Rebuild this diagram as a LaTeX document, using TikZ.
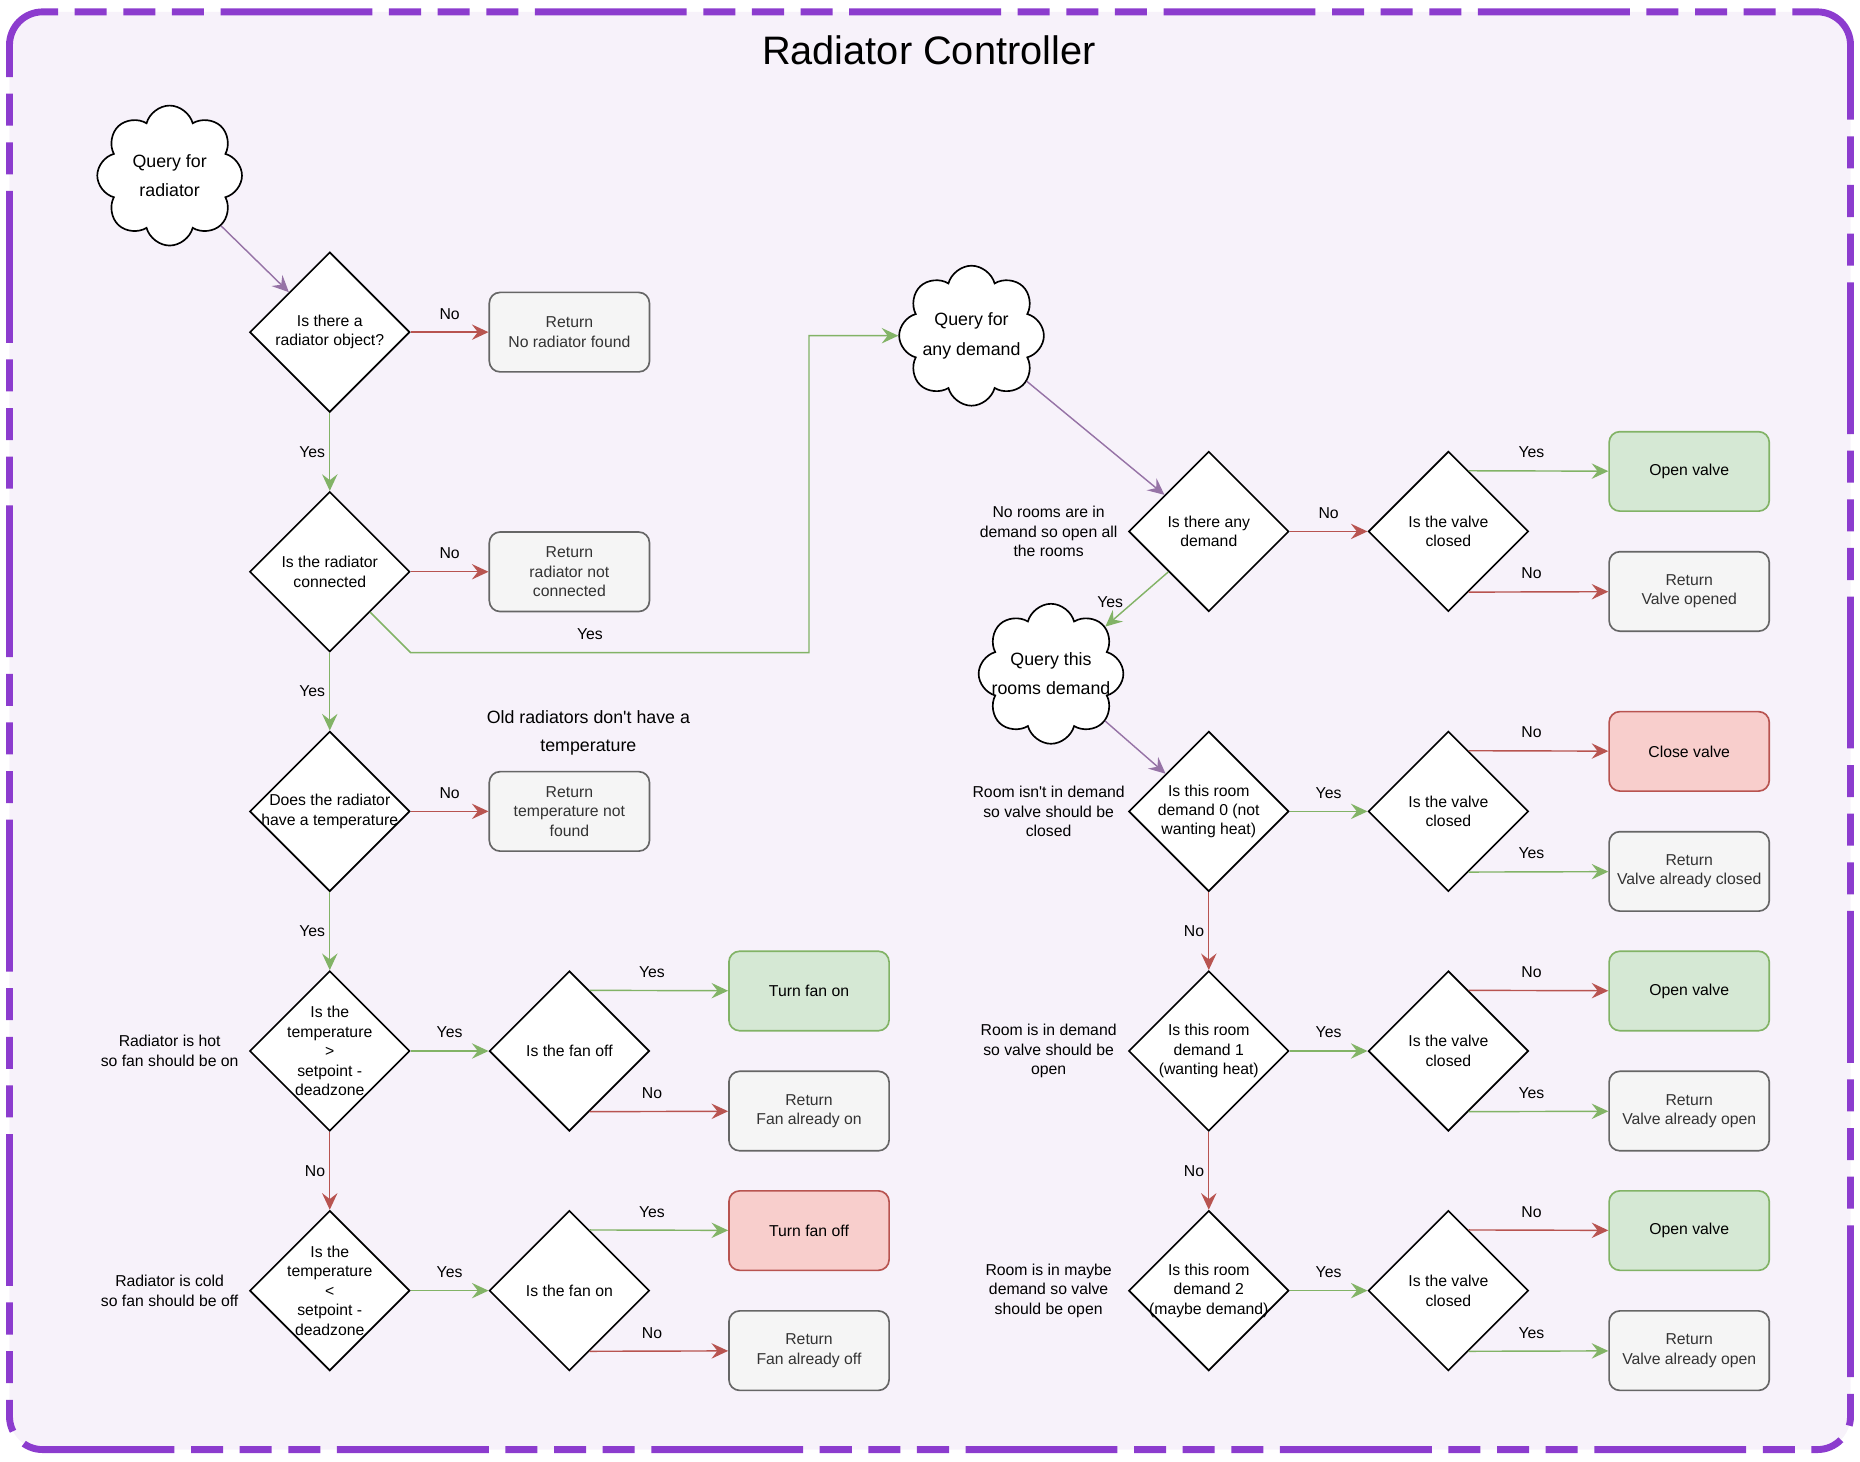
\documentclass[tikz,border=0pt]{standalone}
\usepackage{fontspec}
\setmainfont{Liberation Sans}
\usetikzlibrary{shapes.geometric, shapes.symbols, arrows.meta, calc}

\definecolor{framecol}{RGB}{140,60,206}
\definecolor{framebg}{RGB}{247,242,250}
\definecolor{okcol}{HTML}{82B366}
\definecolor{okfill}{HTML}{D5E8D4}
\definecolor{nocol}{HTML}{B85450}
\definecolor{nofill}{HTML}{F8CECC}
\definecolor{retcol}{HTML}{666666}
\definecolor{retfill}{HTML}{F5F5F5}
\definecolor{rettext}{HTML}{333333}
\definecolor{askcol}{HTML}{9673A6}

\begin{document}
\begin{tikzpicture}[x=1pt, y=-1pt, node distance=202pt, line width=1.2pt, font=\fontsize{13.3}{16.4}\selectfont,
  decision/.style={diamond, aspect=1, draw, line width=1.4pt, fill=white, minimum width=135pt, minimum height=135pt, inner sep=-6pt, align=center},
  answer/.style={rectangle, rounded corners=9pt, draw=retcol, line width=1.4pt, fill=retfill, text=rettext, minimum width=135pt, minimum height=67pt, inner sep=2pt, align=center},
  goodanswer/.style={answer, draw=okcol, fill=okfill, text=black},
  badanswer/.style={answer, draw=nocol, fill=nofill, text=black},
  query/.style={cloud, cloud puffs=8, aspect=1, draw, line width=1.4pt, fill=white, minimum width=122pt, minimum height=118pt, inner sep=-16pt, align=center, font=\fontsize{15}{25}\selectfont},
  note/.style={align=center},
  yesarrow/.style={draw=okcol, -{Stealth[length=14pt, width=13pt, inset=5pt]}},
  noarrow/.style={draw=nocol, -{Stealth[length=14pt, width=13pt, inset=5pt]}},
  askarrow/.style={draw=askcol, -{Stealth[length=14pt, width=13pt, inset=5pt]}}]

  \useasboundingbox (0,0) rectangle (1568,1232);
  \draw[framecol, fill=framebg, line width=5.8pt, rounded corners=28pt, dash pattern=on 27pt off 14pt on 27pt off 14pt on 27pt off 14pt on 128pt off 14pt] (8,10) rectangle (1560,1222);
  \node[font=\fontsize{33.5}{40}\selectfont] (title) at (783,42) {Radiator Controller};

  % radiator side
  \node[query] (radq) at (143,148) {Query for\\radiator};
  \node[decision] (hasrad) at (278,280) {Is there a\\radiator object?};
  \node[decision, below of=hasrad] (connected) {Is the radiator\\connected};
  \node[decision, below of=connected] (hastemp) {Does the radiator\\have a temperature};
  \node[decision, below of=hastemp] (hot) {Is the\\temperature\\>\\setpoint -\\deadzone};
  \node[decision, below of=hot] (cold) {Is the\\temperature\\<\\setpoint -\\deadzone};
  \node[decision, right of=hot] (fanoff) {Is the fan off};
  \node[decision, right of=cold] (fanon) {Is the fan on};

  \node[answer, right of=hasrad] (norad) {Return\\No radiator found};
  \node[answer, right of=connected] (noconn) {Return\\radiator not\\connected};
  \node[answer, right of=hastemp] (notemp) {Return\\temperature not\\found};
  \node[goodanswer, right of=fanoff, yshift=50.6pt] (turnon) {Turn fan on};
  \node[answer, right of=fanoff, yshift=-50.6pt] (alreadyon) {Return\\Fan already on};
  \node[badanswer, right of=fanon, yshift=50.6pt] (turnoff) {Turn fan off};
  \node[answer, right of=fanon, yshift=-50.6pt] (alreadyoff) {Return\\Fan already off};

  \node[note, above of=notemp, node distance=66pt, xshift=16pt, font=\fontsize{15}{24}\selectfont] (oldnote) {Old radiators don\textquotesingle t have a\\temperature};
  \node[note, left of=hot, node distance=135pt] (hotnote) {Radiator is hot\\so fan should be on};
  \node[note, left of=cold, node distance=135pt] (coldnote) {Radiator is cold\\so fan should be off};

  % demand side
  \node[query] (anyq) at (819,283) {Query for\\any demand};
  \node[decision] (anydemand) at (1019,448) {Is there any\\demand};
  \node[query] (roomq) at (886,568) {Query this\\rooms demand};
  \node[decision, below of=anydemand, node distance=236pt] (demand0) {Is this room\\demand 0 (not\\wanting heat)};
  \node[decision, below of=demand0] (demand1) {Is this room\\demand 1\\(wanting heat)};
  \node[decision, below of=demand1] (demand2) {Is this room\\demand 2\\(maybe demand)};

  \node[decision, right of=anydemand] (valveA) {Is the valve\\closed};
  \node[decision, right of=demand0] (valveB) {Is the valve\\closed};
  \node[decision, right of=demand1] (valveC) {Is the valve\\closed};
  \node[decision, right of=demand2] (valveD) {Is the valve\\closed};

  \node[goodanswer, right of=valveA, node distance=203pt, yshift=50.6pt] (openA) {Open valve};
  \node[answer, right of=valveA, node distance=203pt, yshift=-50.6pt] (openedA) {Return\\Valve opened};
  \node[badanswer, right of=valveB, node distance=203pt, yshift=50.6pt] (closeB) {Close valve};
  \node[answer, right of=valveB, node distance=203pt, yshift=-50.6pt] (closedB) {Return\\Valve already closed};
  \node[goodanswer, right of=valveC, node distance=203pt, yshift=50.6pt] (openC) {Open valve};
  \node[answer, right of=valveC, node distance=203pt, yshift=-50.6pt] (openedC) {Return\\Valve already open};
  \node[goodanswer, right of=valveD, node distance=203pt, yshift=50.6pt] (openD) {Open valve};
  \node[answer, right of=valveD, node distance=203pt, yshift=-50.6pt] (openedD) {Return\\Valve already open};

  \node[note, left of=anydemand, node distance=135pt] (anynote) {No rooms are in\\demand so open all\\the rooms};
  \node[note, left of=demand0, node distance=135pt] (note0) {Room isn\textquotesingle t in demand\\so valve should be\\closed};
  \node[note, left of=demand1, node distance=135pt] (note1) {Room is in demand\\so valve should be\\open};
  \node[note, left of=demand2, node distance=135pt] (note2) {Room is in maybe\\demand so valve\\should be open};

  % radiator arrows
  \draw[askarrow] (radq) -- (hasrad);
  \draw[noarrow] (hasrad) -- node[above=7pt] {No} (norad);
  \draw[yesarrow] (hasrad) -- node[left] {Yes} (connected);
  \draw[noarrow] (connected) -- node[above=7pt] {No} (noconn);
  \draw[yesarrow] (connected.south east) -- (connected.south -| connected.east) -- node[above=7pt, pos=0.45] {Yes} (turnon.center |- connected.south) |- (anyq);
  \draw[yesarrow] (connected) -- node[left] {Yes} (hastemp);
  \draw[noarrow] (hastemp) -- node[above=7pt] {No} (notemp);
  \draw[yesarrow] (hastemp) -- node[left] {Yes} (hot);
  \draw[yesarrow] (hot) -- node[above=7pt] {Yes} (fanoff);
  \draw[noarrow] (hot) -- node[left] {No} (cold);
  \draw[yesarrow] (cold) -- node[above=7pt] {Yes} (fanon);
  \draw[yesarrow] ($(fanoff.north)!.25!(fanoff.east)$) -- node[above=7pt, pos=0.45] {Yes} (turnon);
  \draw[noarrow] ($(fanoff.south)!.25!(fanoff.east)$) -- node[above=7pt, pos=0.45] {No} (alreadyon);
  \draw[yesarrow] ($(fanon.north)!.25!(fanon.east)$) -- node[above=7pt, pos=0.45] {Yes} (turnoff);
  \draw[noarrow] ($(fanon.south)!.25!(fanon.east)$) -- node[above=7pt, pos=0.45] {No} (alreadyoff);

  % demand arrows
  \draw[askarrow] (anyq) -- (anydemand);
  \draw[noarrow] (anydemand) -- node[above=7pt] {No} (valveA);
  \draw[yesarrow] (anydemand.south west) -- node[pos=0.55, left=5pt] {Yes} (roomq);
  \draw[askarrow] (roomq) -- (demand0);
  \draw[yesarrow] (demand0) -- node[above=7pt] {Yes} (valveB);
  \draw[noarrow] (demand0) -- node[left] {No} (demand1);
  \draw[yesarrow] (demand1) -- node[above=7pt] {Yes} (valveC);
  \draw[noarrow] (demand1) -- node[left] {No} (demand2);
  \draw[yesarrow] (demand2) -- node[above=7pt] {Yes} (valveD);

  \draw[yesarrow] ($(valveA.north)!.25!(valveA.east)$) -- node[above=7pt, pos=0.45] {Yes} (openA);
  \draw[noarrow] ($(valveA.south)!.25!(valveA.east)$) -- node[above=7pt, pos=0.45] {No} (openedA);
  \draw[noarrow] ($(valveB.north)!.25!(valveB.east)$) -- node[above=7pt, pos=0.45] {No} (closeB);
  \draw[yesarrow] ($(valveB.south)!.25!(valveB.east)$) -- node[above=7pt, pos=0.45] {Yes} (closedB);
  \draw[noarrow] ($(valveC.north)!.25!(valveC.east)$) -- node[above=7pt, pos=0.45] {No} (openC);
  \draw[yesarrow] ($(valveC.south)!.25!(valveC.east)$) -- node[above=7pt, pos=0.45] {Yes} (openedC);
  \draw[noarrow] ($(valveD.north)!.25!(valveD.east)$) -- node[above=7pt, pos=0.45] {No} (openD);
  \draw[yesarrow] ($(valveD.south)!.25!(valveD.east)$) -- node[above=7pt, pos=0.45] {Yes} (openedD);
\end{tikzpicture}
\end{document}
